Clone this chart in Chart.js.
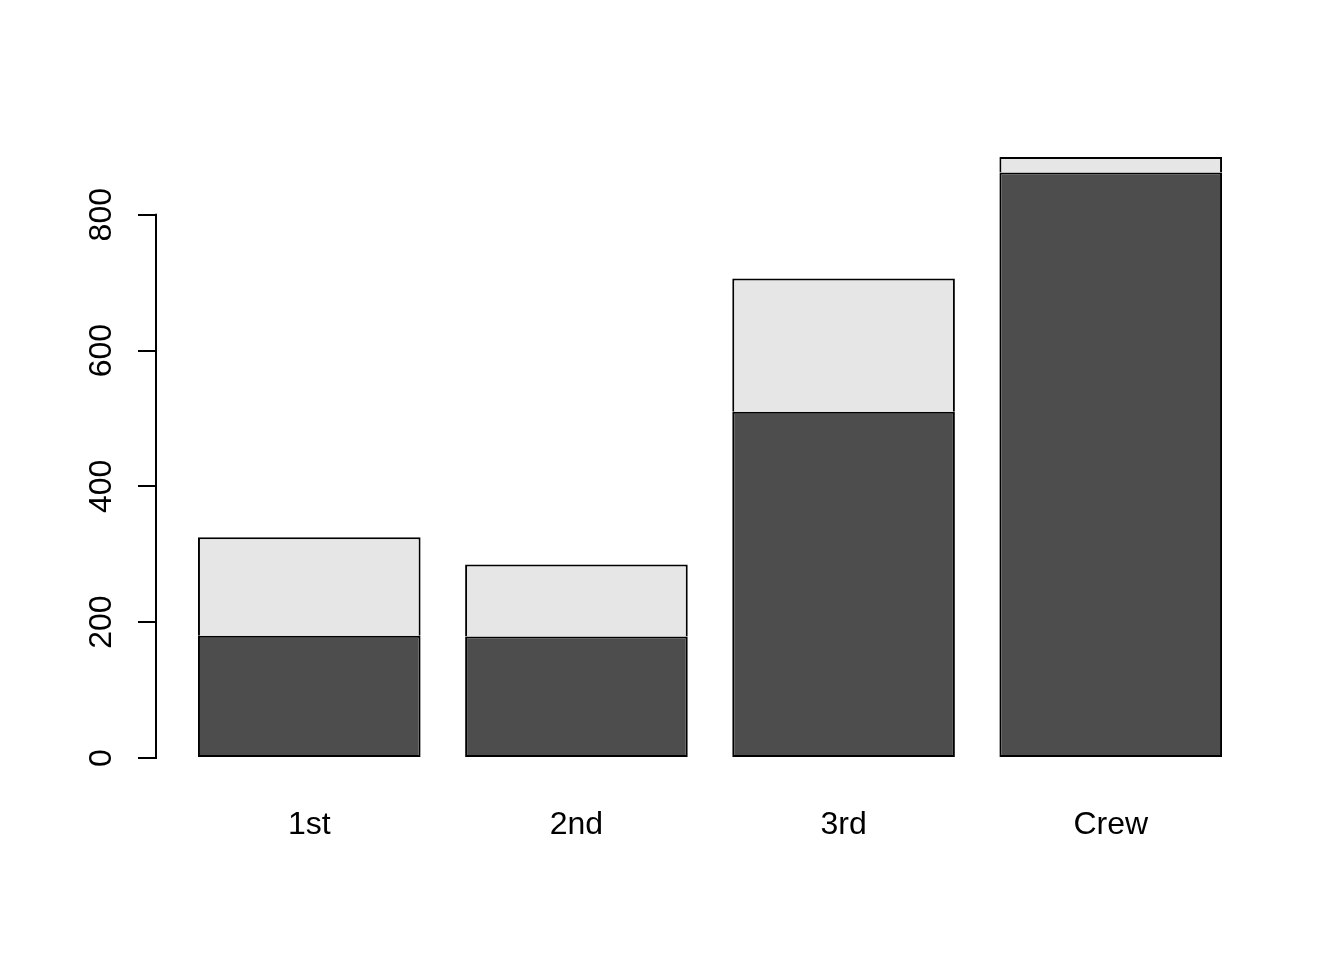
<!DOCTYPE html>
<html>
<head>
<meta charset="utf-8">
<script src="https://cdn.jsdelivr.net/npm/chart.js@4/dist/chart.umd.min.js"></script>
<style>
html,body{margin:0;padding:0;background:#fff;}
#wrap{width:1344px;height:960px;position:relative;}
</style>
</head>
<body>
<div id="wrap"><canvas id="c" width="1344" height="960"></canvas></div>
<script>
const classes = ['1st', '2nd', '3rd', 'Crew'];
const male = [180, 179, 510, 862];
const female = [145, 106, 196, 23];
const yTicks = [0, 200, 400, 600, 800];

const FONT = '"Liberation Sans", Arial, sans-serif';

const yAxisLine = {
  id: 'yAxisLine',
  afterDraw(chart) {
    const y = chart.scales.y;
    const ctx = chart.ctx;
    ctx.save();
    ctx.strokeStyle = '#000';
    ctx.lineWidth = 2;
    ctx.beginPath();
    ctx.moveTo(y.right - 1, y.getPixelForValue(yTicks[0]) + 1);
    ctx.lineTo(y.right - 1, y.getPixelForValue(yTicks[yTicks.length - 1]) - 1);
    ctx.stroke();
    ctx.restore();
  }
};

new Chart(document.getElementById('c'), {
  type: 'bar',
  data: {
    datasets: [
      {
        label: 'Male',
        data: male.map((v, i) => ({x: i, y: v})),
        backgroundColor: '#4D4D4D',
        borderColor: '#000',
        borderWidth: 2,
        borderSkipped: false
      },
      {
        label: 'Female',
        data: female.map((v, i) => ({x: i, y: v})),
        backgroundColor: '#E6E6E6',
        borderColor: '#000',
        borderWidth: 2,
        borderSkipped: 'start'
      }
    ]
  },
  options: {
    responsive: false,
    animation: false,
    maintainAspectRatio: false,
    barPercentage: 1 / 1.2,
    categoryPercentage: 1,
    layout: {padding: {top: 151, right: 81, bottom: 0, left: 0}},
    plugins: {legend: {display: false}, tooltip: {enabled: false}},
    scales: {
      x: {
        type: 'linear',
        stacked: true,
        offset: false,
        min: -0.57,
        max: 3.57,
        grid: {display: false, drawTicks: false, offset: false},
        border: {display: false},
        afterBuildTicks: (s) => { s.ticks = classes.map((c, i) => ({value: i})); },
        afterFit: (s) => { s.height = 196; },
        ticks: {
          autoSkip: false,
          maxRotation: 0,
          minRotation: 0,
          padding: 42,
          color: '#000',
          font: {family: FONT, size: 32},
          callback: (v) => classes[v]
        }
      },
      y: {
        stacked: true,
        min: -8.84,
        max: 893.84,
        grid: {drawOnChartArea: false, drawTicks: true, tickLength: 19, color: '#000', lineWidth: 2},
        border: {display: false},
        afterBuildTicks: (s) => { s.ticks = yTicks.map(v => ({value: v})); },
        afterFit: (s) => { s.width = 157; },
        ticks: {
          minRotation: 90,
          maxRotation: 90,
          crossAlign: 'center',
          padding: 9,
          color: '#000',
          font: {family: FONT, size: 32},
          callback: (v) => String(v)
        }
      }
    }
  },
  plugins: [yAxisLine]
});
</script>
</body>
</html>
